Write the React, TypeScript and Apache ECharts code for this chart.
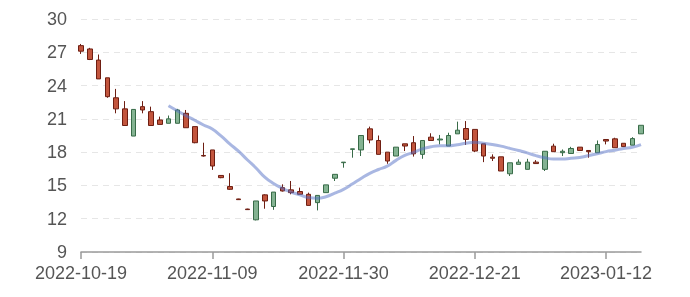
import React, { useEffect, useRef } from "react";
import * as echarts from "echarts";

const dates = [
  "2022-10-19", "2022-10-20", "2022-10-21", "2022-10-24", "2022-10-25", "2022-10-26", "2022-10-27", "2022-10-28",
  "2022-10-31", "2022-11-01", "2022-11-02", "2022-11-03", "2022-11-04", "2022-11-07", "2022-11-08", "2022-11-09",
  "2022-11-10", "2022-11-11", "2022-11-14", "2022-11-15", "2022-11-16", "2022-11-17", "2022-11-18", "2022-11-21",
  "2022-11-22", "2022-11-23", "2022-11-24", "2022-11-25", "2022-11-28", "2022-11-29", "2022-11-30", "2022-12-01",
  "2022-12-02", "2022-12-05", "2022-12-06", "2022-12-07", "2022-12-08", "2022-12-09", "2022-12-12", "2022-12-13",
  "2022-12-14", "2022-12-15", "2022-12-16", "2022-12-19", "2022-12-20", "2022-12-21", "2022-12-22", "2022-12-23",
  "2022-12-26", "2022-12-27", "2022-12-28", "2022-12-29", "2022-12-30", "2023-01-03", "2023-01-04", "2023-01-05",
  "2023-01-06", "2023-01-09", "2023-01-10", "2023-01-11", "2023-01-12", "2023-01-13", "2023-01-16", "2023-01-17",
  "2023-01-18",
];

const openValues = [
  27.6, 27.3, 26.3, 24.7, 22.9, 21.9, 19.45, 22.1, 21.65, 20.9, 20.6, 20.6, 21.5, 20.3, 17.7, 18.2,
  15.9, 14.9, 13.78, 12.87, 11.9, 14.15, 13.1, 14.8, 14.6, 14.45, 14.2, 13.45, 14.35, 15.65, 17.05, 18.25,
  18.2, 20.1, 19.05, 18.0, 17.65, 18.75, 18.85, 17.8, 19.35, 19.1, 18.55, 19.65, 20.13, 20.05, 18.75, 17.55,
  17.58, 16.05, 16.9, 16.45, 17.1, 16.45, 18.54, 17.95, 17.88, 18.45, 18.15, 17.94, 19.14, 19.2, 18.8, 18.63,
  19.65,
];
const closeValues = [
  27.1, 26.35, 24.6, 23.0, 21.9, 20.4, 21.85, 21.8, 20.4, 20.5, 21.0, 21.8, 20.2, 18.85, 17.65, 16.75,
  15.7, 14.65, 13.72, 12.82, 13.6, 13.6, 14.4, 14.5, 14.35, 14.2, 13.2, 14.1, 15.05, 16.0, 17.1, 18.3,
  19.5, 19.1, 17.8, 17.2, 18.45, 18.55, 17.85, 19.05, 19.05, 19.18, 19.5, 19.98, 19.15, 18.1, 17.65, 17.45,
  16.3, 17.04, 17.1, 17.1, 16.97, 18.08, 18.04, 18.08, 18.33, 18.15, 18.04, 18.69, 19.0, 18.4, 18.5, 19.22,
  20.42,
];
const lowValues = [
  26.85, 26.3, 24.6, 22.9, 21.5, 20.4, 19.45, 21.5, 20.4, 20.5, 20.6, 20.6, 20.2, 18.8, 17.6, 16.4,
  15.65, 14.6, 13.7, 12.8, 11.85, 12.9, 12.8, 14.45, 14.2, 14.2, 13.2, 12.75, 14.35, 15.4, 16.6, 17.5,
  17.65, 18.8, 17.8, 16.95, 17.65, 18.1, 17.6, 17.4, 19.05, 18.7, 18.55, 19.65, 18.65, 18.0, 17.1, 17.2,
  16.3, 15.85, 16.9, 16.45, 16.97, 16.3, 18.04, 17.65, 17.88, 18.15, 17.5, 17.94, 18.7, 18.4, 18.5, 18.63,
  19.65,
];
const highValues = [
  27.75, 27.4, 26.8, 24.7, 23.7, 22.6, 21.85, 22.6, 22.1, 21.2, 21.3, 21.9, 21.8, 20.3, 18.85, 18.2,
  15.9, 16.1, 13.8, 12.9, 13.6, 14.2, 14.4, 15.1, 15.4, 14.8, 14.35, 14.1, 15.05, 16.0, 17.1, 18.3,
  19.5, 20.3, 19.5, 18.0, 18.45, 18.75, 19.45, 19.05, 19.7, 19.55, 19.75, 20.75, 20.8, 20.05, 18.75, 17.8,
  17.58, 17.04, 17.35, 17.4, 17.28, 18.08, 18.76, 18.24, 18.48, 18.45, 18.15, 19.05, 19.14, 19.3, 18.8, 19.35,
  20.42,
];

const yTicks = { min: 9, max: 30, interval: 3 };
const maDays = 10;

function calculateMA(dayCount: number, closes: number[]) {
  const result: (number | string)[] = [];
  for (let i = 0; i < closes.length; i++) {
    if (i < dayCount) {
      result.push("-");
      continue;
    }
    let sum = 0;
    for (let j = 0; j < dayCount; j++) sum += closes[i - j];
    result.push(+(sum / dayCount).toFixed(3));
  }
  return result;
}

export default function App() {
  const ref = useRef<HTMLDivElement>(null);
  useEffect(() => {
    document.body.style.margin = "0";
    const chart = echarts.init(ref.current!, undefined, { renderer: "svg" });
    const candleData = dates.map((_, i) => [openValues[i], closeValues[i], lowValues[i], highValues[i]]);
    const font = "'Liberation Sans', Arial, Helvetica, sans-serif";
    chart.setOption({
      animation: false,
      grid: { left: 81, right: 49, top: 19, bottom: 45 },
      xAxis: {
        type: "category",
        data: dates,
        boundaryGap: false,
        axisLine: { lineStyle: { color: "#9a9a9a", width: 1.5 } },
        axisTick: { interval: 14, length: 7, lineStyle: { color: "#9a9a9a", width: 1.5 } },
        axisLabel: { interval: 14, fontSize: 18, color: "#555", fontFamily: font, margin: 12 },
        splitLine: { show: false },
      },
      yAxis: {
        type: "value",
        min: yTicks.min,
        max: yTicks.max,
        interval: yTicks.interval,
        axisLine: { show: false },
        axisTick: { show: false },
        axisLabel: { fontSize: 18, color: "#555", fontFamily: font, margin: 14 },
        splitLine: { lineStyle: { type: [6, 5], color: "#e6e6e6", width: 1 } },
      },
      series: [
        {
          type: "candlestick",
          data: candleData,
          barWidth: 5,
          itemStyle: {
            color: "#84b392",
            color0: "#c2553d",
            borderColor: "#386b48",
            borderColor0: "#6e1e12",
            borderWidth: 1,
          },
        },
        {
          type: "line",
          data: calculateMA(maDays, closeValues),
          smooth: true,
          showSymbol: false,
          lineStyle: { color: "#5470c6", width: 3, opacity: 0.5 },
        },
      ],
    });
    return () => chart.dispose();
  }, []);
  return <div ref={ref} style={{ position: "fixed", left: 0, top: 0, width: 690, height: 297 }} />;
}
